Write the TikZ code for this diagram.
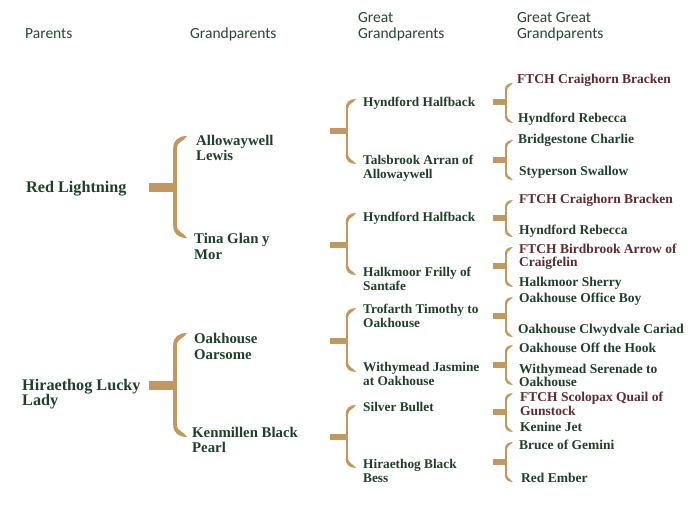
\documentclass[tikz,border=0pt]{standalone}
\usepackage{fontspec}
\setmainfont{Liberation Serif}
\newfontfamily\headfont{Carlito}

\definecolor{namegreen}{RGB}{30,64,40}
\definecolor{headgreen}{RGB}{38,70,50}
\definecolor{ftchred}{RGB}{94,42,48}
\definecolor{bracetan}{RGB}{194,152,94}

% Klammer: #1 Stiel links, #2 Klammer x, #3 oben, #4 Mitte, #5 unten
\newcommand{\pedbrace}[5]{%
  \fill[bracetan] (#1,{#4-\bw}) rectangle (#2,{#4+\bw});
  \draw[bracetan,line width=\bl pt] (#2,{#3+\bc}) -- (#2,{#5-\bc});
  \fill[bracetan]
    ({#2-\bl/2},{#3+\bc})
    .. controls ({#2-\bl/2},{#3+0.35*\bc}) and ({#2+0.3*\bc},#3) .. ({#2+\bc},#3)
    .. controls ({#2+0.75*\bc},{#3+0.45*\bc}) and ({#2+\bl/2},{#3+0.5*\bc}) .. ({#2+\bl/2},{#3+\bc})
    -- cycle;
  \fill[bracetan]
    ({#2-\bl/2},{#5-\bc})
    .. controls ({#2-\bl/2},{#5-0.35*\bc}) and ({#2+0.3*\bc},#5) .. ({#2+\bc},#5)
    .. controls ({#2+0.75*\bc},{#5-0.45*\bc}) and ({#2+\bl/2},{#5-0.5*\bc}) .. ({#2+\bl/2},{#5-\bc})
    -- cycle;
}

% Knoten stehen auf der Grundlinie ihrer letzten Zeile
\tikzset{
  pedname/.style={anchor=base west, inner sep=0pt, align=left, text=namegreen},
  head/.style={pedname, text=headgreen, font=\headfont\fontsize{15.5}{16.3}\selectfont},
  parent/.style={pedname, font=\bfseries\fontsize{16.2}{15}\selectfont},
  grand/.style={pedname, font=\bfseries\fontsize{14.8}{15.5}\selectfont},
  great/.style={pedname, font=\bfseries\fontsize{13.3}{14}\selectfont},
  ggreat/.style={pedname, font=\bfseries\fontsize{13.5}{13.3}\selectfont},
  ftch/.style={ggreat, text=ftchred}
}

\begin{document}
\begin{tikzpicture}[x=1pt,y=-1pt]
  \useasboundingbox (0,0) rectangle (700,505);

  % Spaltenkoepfe
  \node[head] (hP) at (25,39) {Parents};
  \node[head] (hG) at (190,39) {Grandparents};
  \node[head] (hGG) at (358,39) {Great\\Grandparents};
  \node[head] (hGGG) at (517,39) {Great Great\\Grandparents};

  % Eltern
  \node[parent] (p1) at (26,192.5) {Red Lightning};
  \node[parent] (p2) at (22,405) {Hiraethog Lucky\\Lady};

  % Grosseltern
  \node[grand] (g1) at (196,160.7) {Allowaywell\\Lewis};
  \node[grand] (g2) at (194,259.3) {Tina Glan y\\Mor};
  \node[grand] (g3) at (194,359) {Oakhouse\\Oarsome};
  \node[grand] (g4) at (192,452.7) {Kenmillen Black\\Pearl};

  % Urgrosseltern
  \node[great] (gg1) at (363,106.7) {Hyndford Halfback};
  \node[great] (gg2) at (363,178.3) {Talsbrook Arran of\\Allowaywell};
  \node[great] (gg3) at (363,221) {Hyndford Halfback};
  \node[great] (gg4) at (363,290.7) {Halkmoor Frilly of\\Santafe};
  \node[great] (gg5) at (363,327.7) {Trofarth Timothy to\\Oakhouse};
  \node[great] (gg6) at (363,385) {Withymead Jasmine\\at Oakhouse};
  \node[great] (gg7) at (363,411) {Silver Bullet};
  \node[great] (gg8) at (363,482.7) {Hiraethog Black\\Bess};

  % Ururgrosseltern
  \node[ftch] (ggg1) at (517,84) {FTCH Craighorn Bracken};
  \node[ggreat] (ggg2) at (518,122.3) {Hyndford Rebecca};
  \node[ggreat] (ggg3) at (518,144) {Bridgestone Charlie};
  \node[ggreat] (ggg4) at (519,175.7) {Styperson Swallow};
  \node[ftch] (ggg5) at (519,203.5) {FTCH Craighorn Bracken};
  \node[ggreat] (ggg6) at (519,234) {Hyndford Rebecca};
  \node[ftch] (ggg7) at (519,266.7) {FTCH Birdbrook Arrow of\\Craigfelin};
  \node[ggreat] (ggg8) at (519,286) {Halkmoor Sherry};
  \node[ggreat] (ggg9) at (519,302.3) {Oakhouse Office Boy};
  \node[ggreat] (ggg10) at (518,333.3) {Oakhouse Clwydvale Cariad};
  \node[ggreat] (ggg11) at (519,352.3) {Oakhouse Off the Hook};
  \node[ggreat] (ggg12) at (519,386.7) {Withymead Serenade to\\Oakhouse};
  \node[ftch] (ggg13) at (520,415) {FTCH Scolopax Quail of\\Gunstock};
  \node[ggreat] (ggg14) at (520,431.7) {Kenine Jet};
  \node[ggreat] (ggg15) at (519,449) {Bruce of Gemini};
  \node[ggreat] (ggg16) at (521,482.7) {Red Ember};

  % Klammern Eltern -> Grosseltern
  \def\bw{4.5}\def\bl{3.5}\def\bc{12}
  \pedbrace{149}{175}{136}{187}{238}
  \pedbrace{149}{175}{333}{385}{437}

  % Klammern Grosseltern -> Urgrosseltern
  \def\bw{3}\def\bl{2.6}\def\bc{9}
  \pedbrace{330}{347}{99}{131}{164}
  \pedbrace{330}{347}{213}{245}{275}
  \pedbrace{330}{347}{308}{341}{372}
  \pedbrace{330}{347}{405}{437}{468}

  % Klammern Urgrosseltern -> Ururgrosseltern
  \def\bw{2.6}\def\bl{2.2}\def\bc{7}
  \pedbrace{493}{506}{83}{102}{123}
  \pedbrace{493}{506}{140}{160}{180}
  \pedbrace{493}{506}{200}{218}{237}
  \pedbrace{493}{506}{247}{266}{287}
  \pedbrace{493}{506}{297}{316}{337}
  \pedbrace{493}{506}{345}{365}{385}
  \pedbrace{493}{506}{393}{412}{432}
  \pedbrace{493}{506}{442}{462}{482}
\end{tikzpicture}
\end{document}
